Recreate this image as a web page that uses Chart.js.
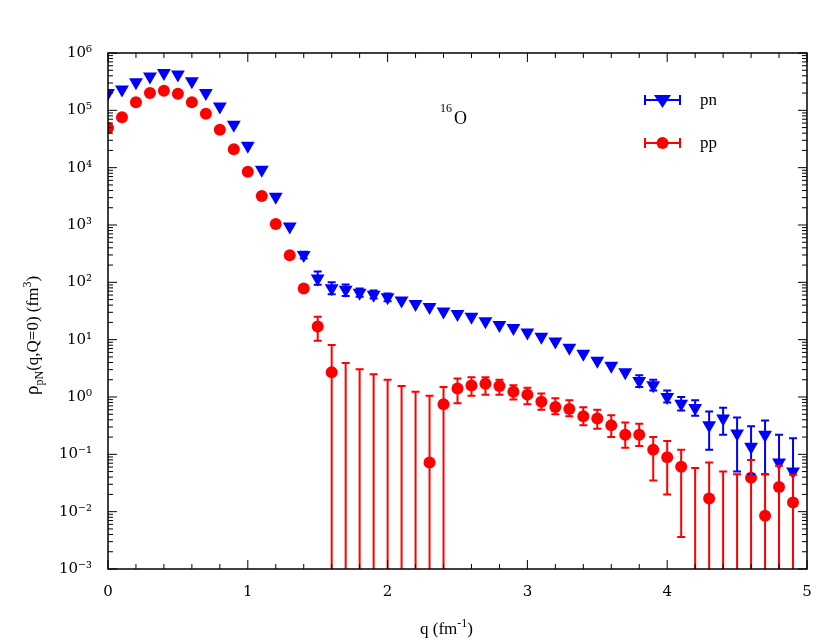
<!DOCTYPE html>
<html>
<head>
<meta charset="utf-8">
<script src="https://cdn.jsdelivr.net/npm/chart.js@4/dist/chart.umd.min.js"></script>
<style>
  body { margin: 0; background: #fff; }
  #wrap { width: 830px; height: 642px; }
</style>
</head>
<body>
<div id="wrap"><canvas id="c" width="830" height="642"></canvas></div>
<script>
// q values (fm^-1)
const qValues = [0,0.1,0.2,0.3,0.4,0.5,0.6,0.7,0.8,0.9,1.0,1.1,1.2,1.3,1.4,1.5,1.6,1.7,1.8,1.9,
  2.0,2.1,2.2,2.3,2.4,2.5,2.6,2.7,2.8,2.9,3.0,3.1,3.2,3.3,3.4,3.5,3.6,3.7,3.8,3.9,
  4.0,4.1,4.2,4.3,4.4,4.5,4.6,4.7,4.8,4.9];

// pn
const pnValues = [2.0e5,2.3e5,3.1e5,3.9e5,4.5e5,4.2e5,3.2e5,2.0e5,1.17e5,5.6e4,2.4e4,9.2e3,3.1e3,940,300,117,79,74,66,61,
  55,48,42,37,31,28,25,21,18,16,13.3,11.2,9.3,7.2,5.7,4.3,3.5,2.7,1.9,1.6,
  1.0,0.76,0.64,0.32,0.42,0.23,0.135,0.22,null,0.072,0.050];
const pnLow = [null,null,null,null,null,null,null,null,null,null,null,null,null,null,260,91,62,58,56,52,
  47,null,null,null,null,null,null,null,null,null,null,null,null,null,null,null,null,null,1.5,1.3,
  0.8,0.58,0.47,0.12,0.22,0.05,0.045,0.045,1e-4,1e-4,1e-4];
const pnHigh = [null,null,null,null,null,null,null,null,null,null,null,null,null,null,340,155,100,92,78,72,
  64,null,null,null,null,null,null,null,null,null,null,null,null,null,null,null,null,null,2.4,2.0,
  1.3,1.0,0.88,0.56,0.65,0.44,0.31,0.39,0.16,0.22,0.19];
pnValues.splice(48, 1); pnLow.splice(48, 1); pnHigh.splice(48, 1);

// pp
const ppValues = [4.9e4,7.6e4,1.39e5,2.0e5,2.2e5,1.94e5,1.39e5,8.7e4,4.6e4,2.1e4,8.5e3,3.2e3,1.04e3,296,78,17,2.7,null,null,null,
  null,null,null,0.072,0.75,1.41,1.58,1.7,1.55,1.24,1.1,0.83,0.67,0.62,0.46,0.42,0.32,0.22,0.22,0.12,
  0.089,0.061,null,0.017,null,null,0.039,0.0085,0.027,0.0145];
const ppLow = [null,null,null,null,null,null,null,null,null,null,null,null,null,null,null,9.6,1e-4,1e-4,1e-4,1e-4,
  1e-4,1e-4,1e-4,1e-4,1e-4,0.78,1.05,1.1,1.1,0.9,0.75,0.6,0.5,0.46,0.32,0.28,0.2,0.13,0.14,0.035,
  0.02,0.0036,1e-4,1e-4,1e-4,1e-4,1e-4,1e-4,1e-4,1e-4];
const ppHigh = [null,null,null,null,null,null,null,null,null,null,null,null,null,null,null,25,8.1,3.9,3.05,2.5,
  2.0,1.55,1.24,1.05,1.5,2.1,2.2,2.2,2.0,1.6,1.45,1.15,0.95,0.88,0.66,0.6,0.48,0.36,0.34,0.2,
  0.17,0.12,0.058,0.072,0.05,0.045,0.08,0.045,0.063,0.044];

const yTickLabels = ['10⁻³','10⁻²','10⁻¹','10⁰','10¹','10²','10³','10⁴','10⁵','10⁶'];
const FONT = '"DejaVu Serif", "Liberation Serif", serif';
const SERIF = '"Liberation Serif", "DejaVu Serif", serif';

const toPoints = (vals) => qValues.map((q, i) => ({ x: q, y: vals[i] }));

const errorBars = {
    id: 'errorBars',
    afterDatasetsDraw(chart) {
        const { ctx, chartArea, scales } = chart;
        const sets = [[pnLow, pnHigh, '#0000ff'], [ppLow, ppHigh, '#ff0000']];
        ctx.save();
        ctx.beginPath();
        ctx.rect(chartArea.left, chartArea.top, chartArea.right - chartArea.left, chartArea.bottom - chartArea.top);
        ctx.clip();
        ctx.lineWidth = 2;
        sets.forEach(([lo, hi, col]) => {
            ctx.strokeStyle = col;
            qValues.forEach((q, i) => {
                if (lo[i] == null || hi[i] == null) return;
                const x = scales.x.getPixelForValue(q);
                const y1 = scales.y.getPixelForValue(lo[i]);
                const y2 = scales.y.getPixelForValue(hi[i]);
                ctx.beginPath();
                ctx.moveTo(x, y1); ctx.lineTo(x, y2);
                ctx.moveTo(x - 4, y1); ctx.lineTo(x + 4, y1);
                ctx.moveTo(x - 4, y2); ctx.lineTo(x + 4, y2);
                ctx.stroke();
            });
        });
        ctx.restore();
    }
};

const frame = {
    id: 'frame',
    afterDraw(chart) {
        const { ctx, chartArea: a, scales } = chart;
        ctx.save();
        ctx.strokeStyle = '#000';
        ctx.lineWidth = 1.5;
        ctx.strokeRect(a.left, a.top, a.right - a.left, a.bottom - a.top);
        ctx.lineWidth = 1;
        ctx.beginPath();
        // x ticks
        for (let k = 0; k <= 25; k++) {
            const x = scales.x.getPixelForValue(k * 0.2);
            const len = (k % 5 === 0) ? 9 : 5;
            ctx.moveTo(x, a.bottom); ctx.lineTo(x, a.bottom - len);
            ctx.moveTo(x, a.top); ctx.lineTo(x, a.top + len);
        }
        // y ticks
        for (let e = -3; e <= 6; e++) {
            for (let m = 1; m <= 9; m++) {
                if (e === 6 && m > 1) break;
                const y = scales.y.getPixelForValue(m * Math.pow(10, e));
                const len = m === 1 ? 9 : 5;
                ctx.moveTo(a.left, y); ctx.lineTo(a.left + len, y);
                ctx.moveTo(a.right, y); ctx.lineTo(a.right - len, y);
            }
        }
        ctx.stroke();

        // axis titles
        ctx.fillStyle = '#000';
        ctx.font = '17px ' + SERIF;
        ctx.textAlign = 'left';
        ctx.textBaseline = 'alphabetic';
        let x0 = 420, y0 = 634;
        ctx.fillText('q (fm', x0, y0);
        let w = ctx.measureText('q (fm').width;
        ctx.font = '12px ' + SERIF;
        ctx.fillText('-1', x0 + w, y0 - 7);
        let w2 = ctx.measureText('-1').width;
        ctx.font = '17px ' + SERIF;
        ctx.fillText(')', x0 + w + w2, y0);

        ctx.save();
        ctx.translate(38, 395);
        ctx.rotate(-Math.PI / 2);
        const parts = [['ρ', 19, 0], ['pN', 12, 5], ['(q,Q=0) (fm', 17, 0], ['3', 12, -7], [')', 17, 0]];
        let px = 0;
        parts.forEach(([t, s, dy]) => {
            ctx.font = s + 'px ' + SERIF;
            ctx.fillText(t, px, dy);
            px += ctx.measureText(t).width;
        });
        ctx.restore();

        // 16O label
        ctx.font = '12px ' + SERIF;
        ctx.fillText('16', 440, 112);
        ctx.font = '18px ' + SERIF;
        ctx.fillText('O', 454, 124);

        // legend
        const items = [['pn', '#0000ff', 'tri', 100], ['pp', '#ff0000', 'circ', 143]];
        items.forEach(([label, col, shape, y]) => {
            ctx.strokeStyle = col; ctx.fillStyle = col; ctx.lineWidth = 2;
            ctx.beginPath();
            ctx.moveTo(645, y); ctx.lineTo(680, y);
            ctx.moveTo(645, y - 5); ctx.lineTo(645, y + 5);
            ctx.moveTo(680, y - 5); ctx.lineTo(680, y + 5);
            ctx.stroke();
            ctx.beginPath();
            if (shape === 'tri') {
                ctx.moveTo(654, y - 5); ctx.lineTo(671, y - 5); ctx.lineTo(662.5, y + 8);
            } else {
                ctx.arc(662.5, y, 6, 0, Math.PI * 2);
            }
            ctx.fill();
            ctx.fillStyle = '#000';
            ctx.font = '17px ' + SERIF;
            ctx.fillText(label, 700, y + 5);
        });
        ctx.restore();
    }
};

new Chart(document.getElementById('c'), {
    type: 'scatter',
    data: {
        datasets: [
            {
                label: 'pn',
                data: toPoints(pnValues),
                pointStyle: 'triangle',
                rotation: 180,
                pointRadius: 8,
                backgroundColor: '#0000ff',
                borderColor: '#0000ff',
                borderWidth: 0
            },
            {
                label: 'pp',
                data: toPoints(ppValues),
                pointStyle: 'circle',
                pointRadius: 6,
                backgroundColor: '#ff0000',
                borderColor: '#ff0000',
                borderWidth: 0
            }
        ]
    },
    options: {
        responsive: false,
        animation: false,
        layout: { padding: { top: 53, right: 23, left: 0, bottom: 0 } },
        plugins: { legend: { display: false }, tooltip: { enabled: false } },
        scales: {
            x: {
                type: 'linear', min: 0, max: 5,
                grid: { display: false },
                border: { display: false },
                ticks: { stepSize: 1, color: '#000', font: { family: FONT, size: 15 }, padding: 6 },
                afterFit: (s) => { s.height = 73; }
            },
            y: {
                type: 'logarithmic', min: 1e-3, max: 1e6,
                grid: { display: false },
                border: { display: false },
                afterBuildTicks: (s) => {
                    s.ticks = yTickLabels.map((_, i) => ({ value: Math.pow(10, i - 3) }));
                },
                ticks: {
                    color: '#000', font: { family: FONT, size: 15 }, padding: 8,
                    callback: (v) => yTickLabels[Math.round(Math.log10(v)) + 3]
                },
                afterFit: (s) => { s.width = 108; }
            }
        }
    },
    plugins: [errorBars, frame]
});
</script>
</body>
</html>
